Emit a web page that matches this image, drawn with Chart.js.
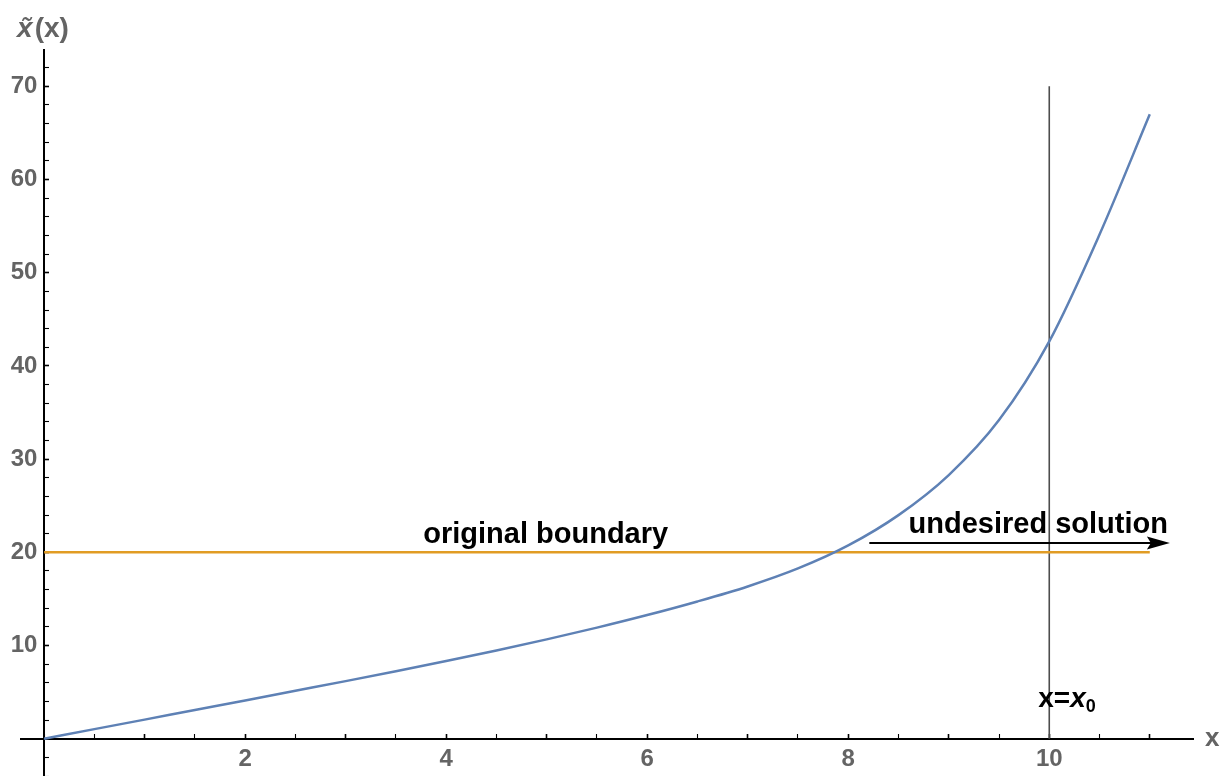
<!DOCTYPE html>
<html>
<head>
<meta charset="utf-8">
<script src="https://cdn.jsdelivr.net/npm/chart.js"></script>
<style>
  html, body { margin: 0; padding: 0; background: #fff; }
  canvas { display: block; }
</style>
</head>
<body>
<canvas id="plot" width="1229" height="776"></canvas>
<script>
// Solution curve x̃(x), sampled along x
const xValues     = [0, 0.5, 1, 1.5, 2, 2.5, 3, 3.5, 4, 4.5, 5, 5.5, 6, 6.5, 7, 7.5, 8, 8.5, 9, 9.5, 10, 10.5, 11];
const curveValues = [0, 1.03, 2.05, 3.08, 4.1, 5.14, 6.18, 7.24, 8.34, 9.47, 10.66, 11.92, 13.27, 14.73, 16.34, 18.27, 20.74, 23.99, 28.29, 34.19, 42.64, 54.1, 67.0];

// Original boundary level and its x extent
const boundaryLevel = 20;
const boundaryRange = [0, 11];

// Vertical marker x = x0
const markerX = 10;
const markerRange = [0, 70];

// Arrow pointing to the undesired solution (x from, x to, at level)
const arrowXs = [8.21, 11.2];
const arrowLevel = 21.0;

// Tick label rules
const xLabelStep = 2;
const yLabelStep = 10;

const TICK_FONT = { family: '"Liberation Sans", Arial, sans-serif', size: 24, weight: 'bold' };
const TICK_GRAY = '#646464';

const curveData = xValues.map((v, i) => ({ x: v, y: curveValues[i] }));
const boundaryData = boundaryRange.map(v => ({ x: v, y: boundaryLevel }));
const markerData = markerRange.map(v => ({ x: markerX, y: v }));

function isLabelled(value, step) {
  const r = value / step;
  return value !== 0 && Math.abs(r - Math.round(r)) < 1e-9;
}

function noOverhang(scale) {
  scale.paddingLeft = 0;
  scale.paddingRight = 0;
  scale.paddingTop = 0;
  scale.paddingBottom = 0;
}

const annotations = {
  id: 'annotations',
  afterDatasetsDraw(chart) {
    const { ctx, scales: { x, y } } = chart;
    ctx.save();

    // arrow shaft and head
    const ax0 = x.getPixelForValue(arrowXs[0]);
    const ax1 = x.getPixelForValue(arrowXs[1]);
    const ay = y.getPixelForValue(arrowLevel);
    ctx.strokeStyle = '#000';
    ctx.fillStyle = '#000';
    ctx.lineWidth = 2;
    ctx.beginPath();
    ctx.moveTo(ax0, ay);
    ctx.lineTo(ax1 - 16, ay);
    ctx.stroke();
    ctx.beginPath();
    ctx.moveTo(ax1, ay);
    ctx.lineTo(ax1 - 23, ay - 6.5);
    ctx.lineTo(ax1 - 19, ay);
    ctx.lineTo(ax1 - 23, ay + 6.5);
    ctx.closePath();
    ctx.fill();

    // text labels
    ctx.fillStyle = '#000';
    ctx.textBaseline = 'alphabetic';
    ctx.font = 'bold 29px "Liberation Sans", Arial, sans-serif';
    ctx.textAlign = 'center';
    ctx.fillText('original boundary', x.getPixelForValue(4.99), y.getPixelForValue(21.0));
    ctx.fillText('undesired solution', x.getPixelForValue(9.89), y.getPixelForValue(22.05));

    // x = x0 label
    ctx.textAlign = 'left';
    let px = x.getPixelForValue(9.89);
    const py = y.getPixelForValue(3.37);
    ctx.font = 'bold 28px "Liberation Sans", Arial, sans-serif';
    ctx.fillText('x=', px, py);
    px += ctx.measureText('x=').width;
    ctx.font = 'italic bold 28px "Liberation Sans", Arial, sans-serif';
    ctx.fillText('x', px, py);
    px += ctx.measureText('x').width;
    ctx.font = 'bold 18px "Liberation Sans", Arial, sans-serif';
    ctx.fillText('0', px, py + 5);

    // axis titles
    ctx.fillStyle = TICK_GRAY;
    ctx.font = 'bold 26px "Liberation Sans", Arial, sans-serif';
    ctx.textBaseline = 'middle';
    ctx.fillText('x', x.right + 12, y.getPixelForValue(0));

    ctx.textBaseline = 'alphabetic';
    let tx = x.getPixelForValue(0) - 27;
    const ty = y.top - 13;
    ctx.font = 'italic bold 28px "Liberation Sans", Arial, sans-serif';
    ctx.fillText('x\u0303', tx, ty);
    tx += ctx.measureText('x').width + 2;
    ctx.font = 'bold 28px "Liberation Sans", Arial, sans-serif';
    ctx.fillText('(x)', tx, ty);

    ctx.restore();
  }
};

new Chart(document.getElementById('plot'), {
  type: 'scatter',
  data: {
    datasets: [
      {
        data: curveData,
        showLine: true,
        borderColor: '#5E81B5',
        borderWidth: 2.5,
        pointRadius: 0,
        cubicInterpolationMode: 'monotone',
        order: 1
      },
      {
        data: boundaryData,
        showLine: true,
        borderColor: '#E19C24',
        borderWidth: 2.5,
        pointRadius: 0,
        order: 2
      },
      {
        data: markerData,
        showLine: true,
        borderColor: '#4d4d4d',
        borderWidth: 1.6,
        pointRadius: 0,
        order: 3
      }
    ]
  },
  options: {
    responsive: false,
    animation: false,
    devicePixelRatio: 1,
    layout: { autoPadding: false, padding: { left: 21, right: 36, top: 50, bottom: 0 } },
    plugins: { legend: { display: false }, tooltip: { enabled: false } },
    scales: {
      x: {
        type: 'linear',
        min: -0.23,
        max: 11.43,
        position: { y: 0 },
        afterFit: noOverhang,
        border: { display: true, color: '#000', width: 2 },
        grid: {
          display: true,
          drawOnChartArea: false,
          drawTicks: true,
          tickLength: -6,
          tickColor: '#000',
          tickWidth: ctx => (ctx.tick && isLabelled(ctx.tick.value, 1) ? 1.6 : 1.1)
        },
        ticks: {
          stepSize: 0.5,
          includeBounds: false,
          autoSkip: false,
          maxRotation: 0,
          padding: 12,
          color: TICK_GRAY,
          font: TICK_FONT,
          callback: v => (isLabelled(v, xLabelStep) ? String(v) : '')
        }
      },
      y: {
        type: 'linear',
        min: -4,
        max: 73.9,
        position: { x: 0 },
        afterFit: noOverhang,
        border: { display: true, color: '#000', width: 2 },
        grid: {
          display: true,
          drawOnChartArea: false,
          drawTicks: true,
          tickLength: -6,
          tickColor: '#000',
          tickWidth: ctx => (ctx.tick && isLabelled(ctx.tick.value, 10) ? 1.6 : 1.1)
        },
        ticks: {
          stepSize: 2,
          includeBounds: false,
          autoSkip: false,
          padding: 12,
          color: TICK_GRAY,
          font: TICK_FONT,
          // trailing space keeps the right-aligned labels clear of the axis line
          callback: v => (isLabelled(v, yLabelStep) ? String(v) + ' ' : '')
        }
      }
    }
  },
  plugins: [annotations]
});
</script>
</body>
</html>
